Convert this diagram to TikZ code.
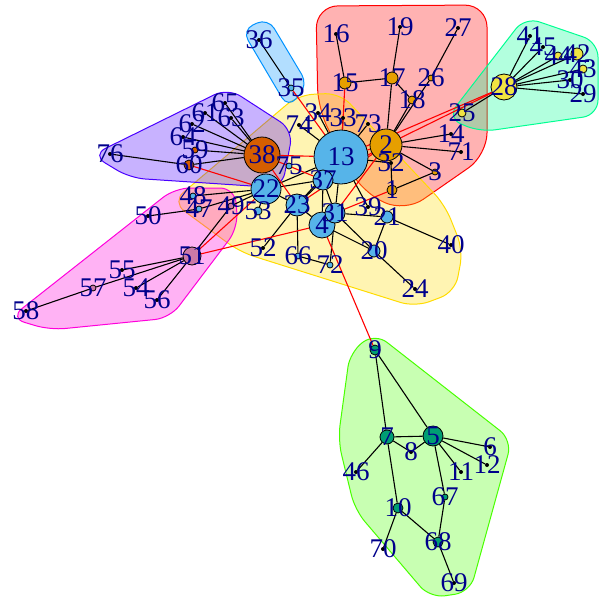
\documentclass[tikz,border=0pt]{standalone}
\usepackage{fontspec}
\setmainfont{Liberation Serif}
\pgfdeclarelayer{hulls}
\pgfdeclarelayer{edges}
\pgfsetlayers{hulls,edges,main}

\definecolor{skyb}{HTML}{56B4E9}
\definecolor{verm}{HTML}{D55E00}
\definecolor{orng}{HTML}{E69F00}
\definecolor{yell}{HTML}{F0E442}
\definecolor{rpurp}{HTML}{CC79A7}
\definecolor{bgrn}{HTML}{009E73}
\definecolor{labblue}{HTML}{00008B}
\definecolor{hred}{HTML}{FF0000}
\definecolor{hyel}{HTML}{FFDB00}
\definecolor{hgrn}{HTML}{49FF00}
\definecolor{hmint}{HTML}{00FF92}
\definecolor{hblue}{HTML}{0092FF}
\definecolor{hviol}{HTML}{4900FF}
\definecolor{hmag}{HTML}{FF00DB}

\tikzset{
  vx/.style={circle, draw=black, line width=0.8pt, inner sep=0pt},
  dot/.style={circle, fill=black, inner sep=0pt, minimum size=4pt},
  lab/.style={text=labblue, font=\fontsize{27}{27}\selectfont, inner sep=0pt},
  same/.style={draw=black, line width=1.1pt},
  cross/.style={draw=red, line width=1.1pt},
  hull/.style={rounded corners=15pt, line width=1pt, fill opacity=0.3}
}

\begin{document}
\begin{tikzpicture}[x=1pt, y=-1pt]

\useasboundingbox (0,0) rectangle (599,600);

% groups
\begin{pgfonlayer}{hulls}
\draw[hull, rounded corners=22pt, draw=hred, fill=hred] (316,6) -- (487,5) -- (487,155) -- (405,212) -- (362,192) -- (318,110) -- cycle;
\draw[hull, draw=hyel, fill=hyel] (172,202) -- (298,95) -- (340,93) -- (445,205) -- (463,250) -- (455,292) -- (415,307) -- (240,252) -- cycle;
\draw[hull, draw=hgrn, fill=hgrn] (350,352) -- (375,333) -- (512,440) -- (470,592) -- (430,598) -- (355,510) -- (338,440) -- cycle;
\draw[hull, draw=hmint, fill=hmint] (447,118) -- (525,17) -- (598,42) -- (598,115) -- (480,132) -- cycle;
\draw[hull, rounded corners=12pt, draw=hblue, fill=hblue] (242,30) -- (268,18) -- (308,85) -- (288,108) -- cycle;
\draw[hull, draw=hviol, fill=hviol] (92,155) -- (228,88) -- (293,130) -- (282,188) -- (130,178) -- cycle;
\draw[hull, draw=hmag, fill=hmag] (10,318) -- (175,188) -- (235,188) -- (238,228) -- (170,318) -- (50,330) -- cycle;
\end{pgfonlayer}

% vertices
\node[vx, fill=skyb, minimum size=54pt] (n13) at (341,157) {};
\node[vx, fill=verm, minimum size=36pt] (n38) at (262,155) {};
\node[vx, fill=orng, minimum size=32pt] (n2) at (386,145) {};
\node[vx, fill=skyb, minimum size=30pt] (n22) at (266,189) {};
\node[vx, fill=skyb, minimum size=22pt] (n23) at (297,205) {};
\node[vx, fill=skyb, minimum size=20pt] (n37) at (323,180) {};
\node[vx, fill=skyb, minimum size=26pt] (n4) at (322,225) {};
\node[vx, fill=skyb, minimum size=20pt] (n31) at (335,213) {};
\node[vx, fill=skyb, minimum size=12pt] (n21) at (387,217) {};
\node[vx, fill=skyb, minimum size=12pt] (n20) at (374,251) {};
\node[vx, fill=skyb, minimum size=6pt] (n72) at (330,265) {};
\node[vx, fill=skyb, minimum size=6pt] (n66) at (298,256) {};
\node[vx, fill=skyb, minimum size=8pt] (n53) at (258,211) {};
\node[vx, fill=skyb, minimum size=6pt] (n75) at (289,166) {};
\node[vx, fill=skyb, minimum size=6pt] (n35) at (291,88) {};
\node[vx, fill=skyb, minimum size=6pt] (n48) at (193,196) {};
\node[vx, fill=skyb, minimum size=6pt] (n47) at (199,209) {};
\node[vx, fill=verm, minimum size=10pt] (n60) at (189,165) {};
\node[vx, fill=verm, minimum size=6pt] (n59) at (195,150) {};
\node[vx, fill=orng, minimum size=12pt] (n15) at (345,83) {};
\node[vx, fill=orng, minimum size=12pt] (n17) at (392,78) {};
\node[vx, fill=orng, minimum size=8pt] (n18) at (412,100) {};
\node[vx, fill=orng, minimum size=6pt] (n26) at (431,78) {};
\node[vx, fill=orng, minimum size=10pt] (n1) at (392,190) {};
\node[vx, fill=orng, minimum size=6pt] (n3) at (435,172) {};
\node[vx, fill=yell, minimum size=26pt] (n28) at (504,87) {};
\node[vx, fill=yell, minimum size=8pt] (n25) at (462,113) {};
\node[vx, fill=yell, minimum size=8pt] (n44) at (558,56) {};
\node[vx, fill=yell, minimum size=12pt] (n42) at (577,54) {};
\node[vx, fill=yell, minimum size=8pt] (n43) at (583,69) {};
\node[vx, fill=rpurp, minimum size=18pt] (n51) at (192,256) {};
\node[vx, fill=rpurp, minimum size=6pt] (n57) at (93,288) {};
\node[vx, fill=rpurp, minimum size=6pt] (n49) at (231,206) {};
\node[vx, fill=bgrn, minimum size=10pt] (n9) at (375,350) {};
\node[vx, fill=bgrn, minimum size=14pt] (n7) at (387,437) {};
\node[vx, fill=bgrn, minimum size=20pt] (n5) at (433,436) {};
\node[vx, fill=bgrn, minimum size=10pt] (n10) at (398,508) {};
\node[vx, fill=bgrn, minimum size=6pt] (n67) at (445,497) {};
\node[vx, fill=bgrn, minimum size=10pt] (n68) at (438,542) {};

\node[dot] (n74) at (299,125) {};
\node[dot] (n34) at (318,113) {};
\node[dot] (n33) at (343,118) {};
\node[dot] (n73) at (368,124) {};
\node[dot] (n32) at (391,163) {};
\node[dot] (n39) at (368,207) {};
\node[dot] (n40) at (451,245) {};
\node[dot] (n24) at (415,289) {};
\node[dot] (n52) at (263,248) {};
\node[dot] (n16) at (336,34) {};
\node[dot] (n19) at (400,27) {};
\node[dot] (n27) at (458,28) {};
\node[dot] (n14) at (451,134) {};
\node[dot] (n71) at (461,152) {};
\node[dot] (n41) at (530,36) {};
\node[dot] (n45) at (543,47) {};
\node[dot] (n30) at (570,80) {};
\node[dot] (n29) at (583,94) {};
\node[dot] (n36) at (259,40) {};
\node[dot] (n65) at (225,103) {};
\node[dot] (n61) at (205,113) {};
\node[dot] (n63) at (231,118) {};
\node[dot] (n62) at (192,124) {};
\node[dot] (n64) at (183,137) {};
\node[dot] (n76) at (110,154) {};
\node[dot] (n50) at (148,216) {};
\node[dot] (n55) at (122,270) {};
\node[dot] (n54) at (136,288) {};
\node[dot] (n56) at (157,300) {};
\node[dot] (n58) at (26,311) {};
\node[dot] (n8) at (411,452) {};
\node[dot] (n6) at (490,447) {};
\node[dot] (n12) at (487,465) {};
\node[dot] (n11) at (461,472) {};
\node[dot] (n46) at (356,472) {};
\node[dot] (n70) at (383,549) {};
\node[dot] (n69) at (454,583) {};

% edges
\begin{pgfonlayer}{edges}
\draw[same] (n9) -- (n7);
\draw[same] (n9) -- (n5);
\draw[same] (n7) -- (n5);
\draw[same] (n7) -- (n8);
\draw[same] (n8) -- (n5);
\draw[same] (n7) -- (n46);
\draw[same] (n7) -- (n10);
\draw[same] (n10) -- (n70);
\draw[same] (n10) -- (n68);
\draw[same] (n5) -- (n6);
\draw[same] (n5) -- (n12);
\draw[same] (n5) -- (n11);
\draw[same] (n5) -- (n67);
\draw[same] (n67) -- (n68);
\draw[same] (n68) -- (n69);

\draw[same] (n28) -- (n25);
\draw[same] (n28) -- (n41);
\draw[same] (n28) -- (n45);
\draw[same] (n28) -- (n44);
\draw[same] (n28) -- (n42);
\draw[same] (n28) -- (n43);
\draw[same] (n28) -- (n30);
\draw[same] (n28) -- (n29);

\draw[same] (n36) -- (n35);

\draw[same] (n38) -- (n65);
\draw[same] (n38) -- (n61);
\draw[same] (n38) -- (n63);
\draw[same] (n38) -- (n62);
\draw[same] (n38) -- (n64);
\draw[same] (n38) -- (n59);
\draw[same] (n38) -- (n60);
\draw[same] (n60) -- (n76);

\draw[same] (n51) -- (n55);
\draw[same] (n51) -- (n57);
\draw[same] (n57) -- (n58);
\draw[same] (n51) -- (n54);
\draw[same] (n51) -- (n56);
\draw[same] (n51) -- (n49);
\draw[same] (n50) -- (n47);

\draw[same] (n15) -- (n16);
\draw[same] (n15) -- (n17);
\draw[same] (n17) -- (n19);
\draw[same] (n17) -- (n2);
\draw[same] (n17) -- (n18);
\draw[same] (n18) -- (n2);
\draw[same] (n2) -- (n26);
\draw[same] (n26) -- (n27);
\draw[same] (n2) -- (n14);
\draw[same] (n2) -- (n71);
\draw[same] (n2) -- (n3);
\draw[same] (n3) -- (n1);
\draw[same] (n1) -- (n32);

\draw[same] (n13) -- (n74);
\draw[same] (n13) -- (n34);
\draw[same] (n13) -- (n33);
\draw[same] (n13) -- (n73);
\draw[same] (n13) -- (n32);
\draw[same] (n13) -- (n37);
\draw[same] (n13) -- (n31);
\draw[same] (n13) -- (n39);
\draw[same] (n13) -- (n22);
\draw[same] (n13) -- (n23);
\draw[same] (n37) -- (n23);
\draw[same] (n37) -- (n4);
\draw[same] (n37) -- (n31);
\draw[same] (n37) -- (n22);
\draw[same] (n22) -- (n23);
\draw[same] (n23) -- (n4);
\draw[same] (n23) -- (n66);
\draw[same] (n23) -- (n52);
\draw[same] (n22) -- (n53);
\draw[same] (n22) -- (n48);
\draw[same] (n22) -- (n47);
\draw[same] (n22) -- (n49);
\draw[same] (n4) -- (n31);
\draw[same] (n31) -- (n72);
\draw[same] (n66) -- (n72);
\draw[same] (n31) -- (n21);
\draw[same] (n31) -- (n20);
\draw[same] (n4) -- (n20);
\draw[same] (n21) -- (n20);
\draw[same] (n21) -- (n40);
\draw[same] (n20) -- (n24);

\draw[cross] (n38) -- (n13);
\draw[cross] (n38) -- (n37);
\draw[cross] (n38) -- (n23);
\draw[cross] (n60) -- (n22);
\draw[cross] (n13) -- (n2);
\draw[cross] (n37) -- (n2);
\draw[cross] (n23) -- (n2);
\draw[cross] (n2) -- (n31);
\draw[cross] (n1) -- (n31);
\draw[cross] (n13) -- (n28);
\draw[cross] (n2) -- (n28);
\draw[cross] (n35) -- (n13);
\draw[cross] (n15) -- (n13);
\draw[cross] (n51) -- (n22);
\draw[cross] (n51) -- (n4);
\draw[cross] (n9) -- (n4);
\end{pgfonlayer}

% labels
\foreach \v in {1,...,76}
  \node[lab] (l\v) at (n\v) {\v};

\end{tikzpicture}
\end{document}
